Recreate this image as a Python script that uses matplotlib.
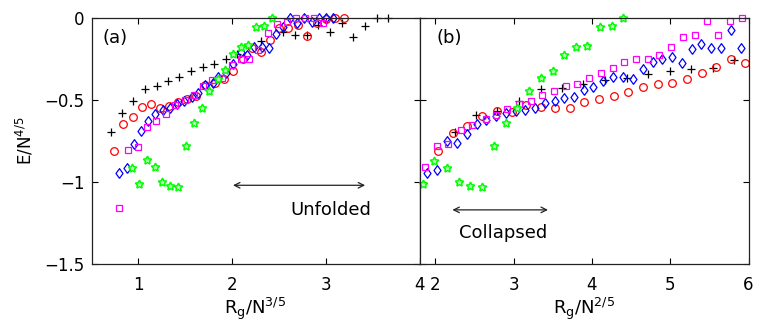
import matplotlib
matplotlib.use('Agg')
import matplotlib.pyplot as plt

plt.rcParams['font.family'] = ['DejaVu Sans']
plt.rcParams['mathtext.fontset'] = 'dejavusans'

# panel (a) data
plus_a_x = [0.705, 0.822, 0.946, 1.071, 1.196, 1.32, 1.437, 1.562, 1.687, 1.81, 1.935, 2.049,
            2.173, 2.305, 2.547, 2.672, 2.803, 2.92, 3.045, 3.17, 3.294, 3.419, 3.543, 3.667]
plus_a_y = [-0.693, -0.581, -0.506, -0.433, -0.415, -0.382, -0.358, -0.323, -0.301, -0.283, -0.248, -0.22,
            -0.165, -0.142, -0.087, -0.102, -0.106, -0.041, -0.085, -0.032, -0.114, -0.047, 0.0, 0.0]

circ_a_x = [0.74, 0.84, 0.94, 1.035, 1.132, 1.231, 1.327, 1.42, 1.516, 1.61, 1.711, 1.818, 1.91,
            2.013, 2.113, 2.216, 2.305, 2.405, 2.504, 2.6, 2.7, 2.803, 2.903, 3.002, 3.098, 3.194]
circ_a_y = [-0.809, -0.648, -0.606, -0.543, -0.526, -0.551, -0.537, -0.514, -0.494, -0.475, -0.41, -0.398, -0.375,
            -0.321, -0.252, -0.185, -0.205, -0.134, -0.063, -0.063, -0.043, -0.11, -0.028, -0.008, 0.0, 0.0]

diam_a_x = [0.797, 0.876, 0.954, 1.025, 1.106, 1.178, 1.26, 1.338, 1.416, 1.49, 1.569, 1.64, 1.711,
            1.793, 1.853, 1.935, 2.013, 2.09, 2.16, 2.237, 2.316, 2.394, 2.469, 2.54, 2.618, 2.696,
            2.771, 2.85, 2.928, 3.002, 3.074]
diam_a_y = [-0.943, -0.917, -0.768, -0.689, -0.628, -0.587, -0.561, -0.547, -0.526, -0.506, -0.48, -0.459, -0.409,
            -0.398, -0.358, -0.337, -0.28, -0.21, -0.225, -0.175, -0.175, -0.181, -0.098, -0.053, -0.002, -0.032,
            0.0, -0.022, 0.0, 0.0, 0.0]

sq_a_x = [0.79, 0.893, 0.993, 1.089, 1.188, 1.292, 1.395, 1.495, 1.59, 1.687, 1.783, 1.89,
          1.996, 2.09, 2.18, 2.28, 2.387, 2.483, 2.583, 2.679, 2.778, 2.874, 2.974]
sq_a_y = [-1.157, -0.805, -0.785, -0.667, -0.628, -0.585, -0.53, -0.5, -0.47, -0.413, -0.378, -0.368,
          -0.287, -0.25, -0.25, -0.195, -0.093, -0.038, -0.022, 0.0, 0.0, -0.002, -0.028]

star_a_x = [0.929, 1.01, 1.096, 1.178, 1.256, 1.338, 1.42, 1.505, 1.594, 1.676, 1.757, 1.847,
            1.925, 2.007, 2.092, 2.173, 2.252, 2.34, 2.423]
star_a_y = [-0.913, -1.012, -0.866, -0.91, -1.002, -1.022, -1.028, -0.78, -0.638, -0.551, -0.443, -0.374,
            -0.317, -0.222, -0.175, -0.165, -0.057, -0.049, 0.0]

# panel (b) data
plus_b_x = [2.253, 2.521, 2.793, 3.07, 3.347, 3.615, 3.891, 4.168, 4.445, 4.721, 4.998, 5.266, 5.543, 5.819]
plus_b_y = [-0.693, -0.591, -0.567, -0.506, -0.433, -0.429, -0.404, -0.378, -0.364, -0.343, -0.323, -0.313,
            -0.307, -0.256]

circ_b_x = [2.04, 2.224, 2.403, 2.594, 2.785, 2.977, 3.16, 3.347, 3.53, 3.721, 3.904, 4.092, 4.283, 4.466,
            4.657, 4.841, 5.027, 5.219, 5.402, 5.585, 5.773, 5.955]
circ_b_y = [-0.809, -0.703, -0.659, -0.596, -0.565, -0.571, -0.53, -0.541, -0.547, -0.547, -0.514, -0.494,
            -0.476, -0.453, -0.419, -0.404, -0.398, -0.374, -0.337, -0.297, -0.252, -0.272]

diam_b_x = [1.892, 2.02, 2.147, 2.275, 2.403, 2.53, 2.649, 2.777, 2.904, 3.028, 3.151, 3.275, 3.402, 3.53,
            3.648, 3.772, 3.9, 4.019, 4.147, 4.274, 4.402, 4.53, 4.649, 4.777, 4.9, 5.027, 5.147, 5.275,
            5.394, 5.521, 5.649, 5.773, 5.9]
diam_b_y = [-0.947, -0.927, -0.75, -0.764, -0.707, -0.648, -0.622, -0.596, -0.577, -0.565, -0.561, -0.547,
            -0.52, -0.504, -0.486, -0.48, -0.439, -0.419, -0.382, -0.358, -0.358, -0.374, -0.311, -0.27,
            -0.252, -0.236, -0.272, -0.191, -0.16, -0.185, -0.181, -0.073, -0.185]

sq_b_x = [1.87, 2.02, 2.168, 2.326, 2.474, 2.645, 2.773, 2.921, 3.07, 3.22, 3.368, 3.521, 3.666, 3.815,
          3.964, 4.117, 4.266, 4.415, 4.564, 4.713, 4.861, 5.011, 5.16, 5.317, 5.466, 5.615, 5.764, 5.913]
sq_b_y = [-0.907, -0.78, -0.77, -0.683, -0.652, -0.616, -0.591, -0.555, -0.526, -0.504, -0.47, -0.445,
          -0.413, -0.404, -0.368, -0.333, -0.303, -0.27, -0.25, -0.25, -0.226, -0.179, -0.114, -0.104,
          -0.016, -0.104, -0.016, 0.0]

star_b_x = [1.841, 1.985, 2.147, 2.304, 2.445, 2.594, 2.751, 2.904, 3.049, 3.198, 3.347, 3.5, 3.648,
            3.798, 3.942, 4.104, 4.254, 4.402]
star_b_y = [-1.012, -0.87, -0.913, -1.002, -1.022, -1.028, -0.78, -0.638, -0.551, -0.443, -0.368, -0.321,
            -0.226, -0.179, -0.171, -0.057, -0.047, 0.0]

y_ticks = [-1.5, -1, -0.5, 0]
y_tick_labels = ['\u22121.5', '\u22121', '\u22120.5', '0']
x_ticks_a = [1, 2, 3, 4]
x_ticks_b = [2, 3, 4, 5, 6]

STAR = (5, 1, 0)
# matlab style diamond, a bit wider than matplotlib's thin 'd'
DIAMOND = [(0, -1), (0.72, 0), (0, 1), (-0.72, 0), (0, -1)]


def draw_series(ax, plus, circ, diam, sq, star):
    kw = dict(linestyle='none', clip_on=False)
    ax.plot(plus[0], plus[1], marker='+', color='k', markersize=6, markeredgewidth=0.9, **kw)
    ax.plot(circ[0], circ[1], marker='o', color='#ff0000', markerfacecolor='none',
            markersize=5.5, markeredgewidth=0.9, **kw)
    ax.plot(diam[0], diam[1], marker=DIAMOND, color='#0000ff', markerfacecolor='none',
            markersize=7, markeredgewidth=0.9, **kw)
    ax.plot(sq[0], sq[1], marker='s', color='#ff00ff', markerfacecolor='none',
            markersize=5, markeredgewidth=0.9, **kw)
    ax.plot(star[0], star[1], marker=STAR, color='#00ff00', markerfacecolor='#b8ffb8',
            markersize=6.3, markeredgewidth=1.1, **kw)


def style_axes(ax):
    ax.set_ylim(-1.5, 0)
    ax.set_yticks(y_ticks)
    ax.tick_params(direction='in', top=True, right=True, length=4, width=0.8,
                   labelsize=12, pad=5)
    ax.tick_params(axis='x', pad=9)
    for s in ax.spines.values():
        s.set_linewidth(0.9)
        s.set_color('#222222')


fig = plt.figure(figsize=(7.63, 3.30), dpi=100)
ax1 = fig.add_axes([91.5 / 763, 66 / 330, 328 / 763, 246 / 330])
ax2 = fig.add_axes([419.5 / 763, 66 / 330, 329 / 763, 246 / 330])

# (a) unfolded scaling
draw_series(ax1, (plus_a_x, plus_a_y), (circ_a_x, circ_a_y), (diam_a_x, diam_a_y),
            (sq_a_x, sq_a_y), (star_a_x, star_a_y))
style_axes(ax1)
ax1.set_xlim(0.5, 4)
ax1.set_xticks(x_ticks_a)
ax1.set_yticklabels(y_tick_labels)
ax1.set_xlabel(r'R$_\mathregular{g}$/N$^\mathregular{3/5}$', fontsize=13, labelpad=1)
ax1.set_ylabel(r'E/N$^\mathregular{4/5}$', fontsize=12, labelpad=6)
ax1.text(0.62, -0.12, '(a)', fontsize=13, va='center', ha='left')
ax1.annotate('', xy=(2.01, -1.02), xytext=(3.42, -1.02),
             arrowprops=dict(arrowstyle='<->', lw=0.9, color='#222222', shrinkA=0, shrinkB=0))
ax1.text(3.05, -1.17, 'Unfolded', fontsize=13, ha='center', va='center')

# (b) collapsed scaling
draw_series(ax2, (plus_b_x, plus_b_y), (circ_b_x, circ_b_y), (diam_b_x, diam_b_y),
            (sq_b_x, sq_b_y), (star_b_x, star_b_y))
style_axes(ax2)
ax2.set_xlim(1.8, 6)
ax2.set_xticks(x_ticks_b)
ax2.set_yticklabels([])
ax2.set_xlabel(r'R$_\mathregular{g}$/N$^\mathregular{2/5}$', fontsize=13, labelpad=1)
ax2.text(2.02, -0.12, '(b)', fontsize=13, va='center', ha='left')
ax2.annotate('', xy=(2.22, -1.17), xytext=(3.44, -1.17),
             arrowprops=dict(arrowstyle='<->', lw=0.9, color='#222222', shrinkA=0, shrinkB=0))
ax2.text(2.87, -1.31, 'Collapsed', fontsize=13, ha='center', va='center')

fig.savefig('out.png', dpi=100)
